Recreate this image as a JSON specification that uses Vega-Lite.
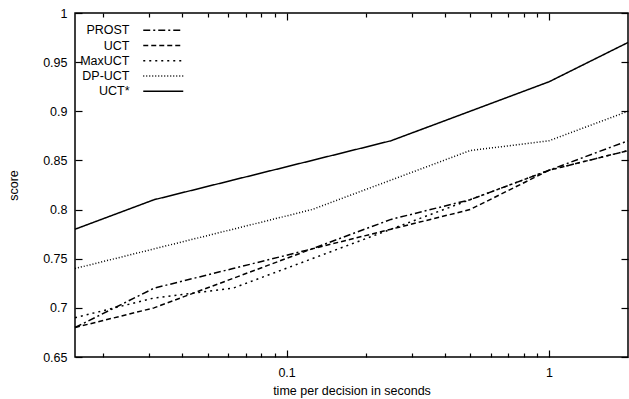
{
  "$schema": "https://vega.github.io/schema/vega-lite/v6.json",
  "autosize": "none",
  "width": 553,
  "height": 344,
  "padding": {"left": 75, "top": 13, "right": 1, "bottom": 42},
  "background": "white",
  "config": {
    "font": "Liberation Sans",
    "view": {"stroke": "black", "strokeWidth": 1.5},
    "axis": {"labelFont": "Liberation Sans", "titleFont": "Liberation Sans", "labelFontSize": 12.5, "titleFontSize": 12.5, "labelColor": "black", "titleColor": "black", "titleFontWeight": "normal", "grid": false, "tickColor": "black", "domain": false, "tickWidth": 1.2},
    "legend": {"labelFont": "Liberation Sans", "labelFontSize": 12.5, "labelColor": "black"}
  },
  "data": {"values": [
    {"t": 0.015625, "method": "PROST", "score": 0.68},
    {"t": 0.03125, "method": "PROST", "score": 0.72},
    {"t": 0.0625, "method": "PROST", "score": 0.74},
    {"t": 0.125, "method": "PROST", "score": 0.76},
    {"t": 0.25, "method": "PROST", "score": 0.79},
    {"t": 0.5, "method": "PROST", "score": 0.81},
    {"t": 1, "method": "PROST", "score": 0.84},
    {"t": 2, "method": "PROST", "score": 0.87},
    {"t": 0.015625, "method": "UCT", "score": 0.68},
    {"t": 0.03125, "method": "UCT", "score": 0.70},
    {"t": 0.0625, "method": "UCT", "score": 0.73},
    {"t": 0.125, "method": "UCT", "score": 0.76},
    {"t": 0.25, "method": "UCT", "score": 0.78},
    {"t": 0.5, "method": "UCT", "score": 0.80},
    {"t": 1, "method": "UCT", "score": 0.84},
    {"t": 2, "method": "UCT", "score": 0.86},
    {"t": 0.015625, "method": "MaxUCT", "score": 0.69},
    {"t": 0.03125, "method": "MaxUCT", "score": 0.71},
    {"t": 0.0625, "method": "MaxUCT", "score": 0.72},
    {"t": 0.125, "method": "MaxUCT", "score": 0.75},
    {"t": 0.25, "method": "MaxUCT", "score": 0.78},
    {"t": 0.5, "method": "MaxUCT", "score": 0.81},
    {"t": 1, "method": "MaxUCT", "score": 0.84},
    {"t": 2, "method": "MaxUCT", "score": 0.86},
    {"t": 0.015625, "method": "DP-UCT", "score": 0.74},
    {"t": 0.03125, "method": "DP-UCT", "score": 0.76},
    {"t": 0.0625, "method": "DP-UCT", "score": 0.78},
    {"t": 0.125, "method": "DP-UCT", "score": 0.80},
    {"t": 0.25, "method": "DP-UCT", "score": 0.83},
    {"t": 0.5, "method": "DP-UCT", "score": 0.86},
    {"t": 1, "method": "DP-UCT", "score": 0.87},
    {"t": 2, "method": "DP-UCT", "score": 0.90},
    {"t": 0.015625, "method": "UCT*", "score": 0.78},
    {"t": 0.03125, "method": "UCT*", "score": 0.81},
    {"t": 0.0625, "method": "UCT*", "score": 0.83},
    {"t": 0.125, "method": "UCT*", "score": 0.85},
    {"t": 0.25, "method": "UCT*", "score": 0.87},
    {"t": 0.5, "method": "UCT*", "score": 0.90},
    {"t": 1, "method": "UCT*", "score": 0.93},
    {"t": 2, "method": "UCT*", "score": 0.97}
  ]},
  "encoding": {
    "x": {"field": "t", "type": "quantitative", "scale": {"type": "log", "domain": [0.015625, 2], "nice": false}},
    "y": {"field": "score", "type": "quantitative", "scale": {"domain": [0.65, 1], "nice": false, "zero": false}}
  },
  "layer": [
    {
      "mark": {"type": "line", "color": "black", "strokeWidth": 1.5, "strokeCap": "butt"},
      "encoding": {
        "x": {"field": "t", "type": "quantitative", "axis": {"orient": "bottom", "values": [0.1, 1], "format": "~g", "ticks": false, "labelPadding": 9, "title": "time per decision in seconds", "titlePadding": 6}},
        "y": {"field": "score", "type": "quantitative", "axis": {"orient": "left", "values": [0.65, 0.7, 0.75, 0.8, 0.85, 0.9, 0.95, 1], "format": "~g", "ticks": false, "labelPadding": 8, "title": "score", "titlePadding": 22}},
        "strokeDash": {
          "field": "method", "type": "nominal",
          "scale": {"domain": ["PROST", "UCT", "MaxUCT", "DP-UCT", "UCT*"], "range": [[7, 3, 2, 3], [5, 3], [2, 4], [1, 2], [1, 0]]},
          "legend": {"orient": "none", "legendX": 82, "legendY": 11, "title": null, "symbolType": "M-4,0H4", "symbolSize": 100, "symbolStrokeColor": "black", "symbolStrokeWidth": 1.5, "symbolFillColor": "transparent", "labelAlign": "right", "labelOffset": -40, "rowPadding": 2.25, "padding": 0}
        }
      }
    },
    {
      "mark": {"type": "line", "opacity": 0},
      "encoding": {
        "x": {"field": "t", "type": "quantitative", "axis": {"orient": "bottom", "values": [0.1, 1], "labels": false, "tickSize": -7, "title": null}},
        "y": {"field": "score", "type": "quantitative", "axis": {"orient": "left", "values": [0.65, 0.7, 0.75, 0.8, 0.85, 0.9, 0.95, 1], "labels": false, "tickSize": -7, "title": null}},
        "detail": {"field": "method"}
      }
    },
    {
      "mark": {"type": "line", "opacity": 0},
      "encoding": {
        "x": {"field": "t", "type": "quantitative", "axis": {"orient": "bottom", "values": [0.02, 0.03, 0.04, 0.05, 0.06, 0.07, 0.08, 0.09, 0.2, 0.3, 0.4, 0.5, 0.6, 0.7, 0.8, 0.9], "labels": false, "tickSize": -4, "title": null}},
        "y": {"field": "score", "type": "quantitative", "axis": {"orient": "right", "values": [0.65, 0.7, 0.75, 0.8, 0.85, 0.9, 0.95, 1], "labels": false, "tickSize": -7, "title": null}},
        "detail": {"field": "method"}
      }
    },
    {
      "mark": {"type": "line", "opacity": 0},
      "encoding": {
        "x": {"field": "t", "type": "quantitative", "axis": {"orient": "top", "values": [0.1, 1], "labels": false, "tickSize": -7, "title": null}},
        "y": {"field": "score", "type": "quantitative", "axis": null},
        "detail": {"field": "method"}
      }
    },
    {
      "mark": {"type": "line", "opacity": 0},
      "encoding": {
        "x": {"field": "t", "type": "quantitative", "axis": {"orient": "top", "values": [0.02, 0.03, 0.04, 0.05, 0.06, 0.07, 0.08, 0.09, 0.2, 0.3, 0.4, 0.5, 0.6, 0.7, 0.8, 0.9], "labels": false, "tickSize": -4, "title": null}},
        "y": {"field": "score", "type": "quantitative", "axis": null},
        "detail": {"field": "method"}
      }
    }
  ],
  "resolve": {"axis": {"x": "independent", "y": "independent"}}
}
